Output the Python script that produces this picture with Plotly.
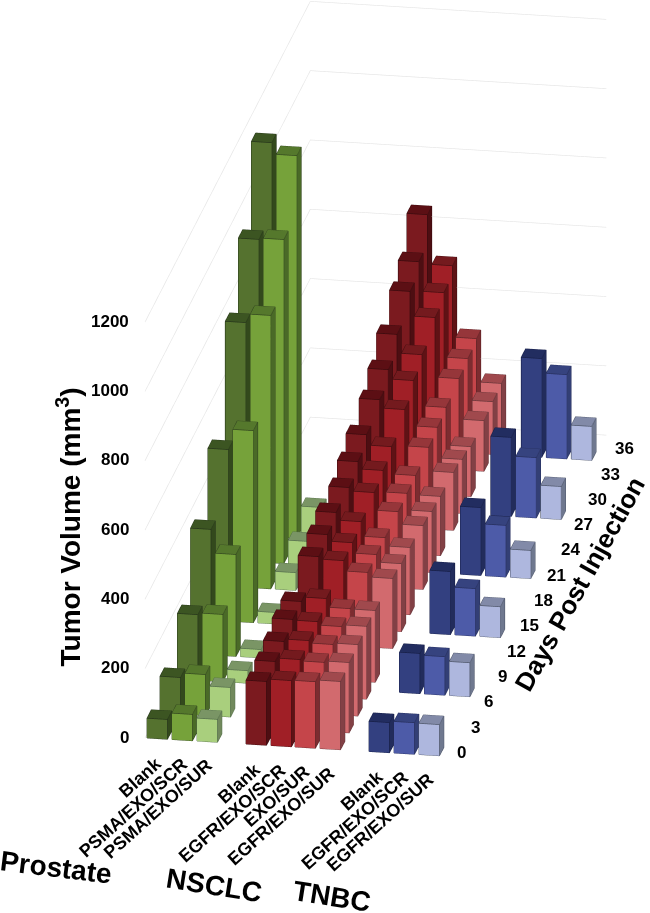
import numpy as np
import plotly.graph_objects as go

# ---------- data ----------
prostate_days = [0, 3, 7, 10, 14, 18, 21, 24]
prostate_blank = [57, 105, 189, 362, 495, 764, 931, 1137]
prostate_scr = [76, 118, 194, 294, 554, 789, 935, 1104]
prostate_sur = [66, 85, 36, 24, 33, 51, 68, 93]

nsclc_days = [0, 2, 4, 6, 8, 12, 14, 16, 19, 21, 23, 26, 28, 30, 33, 35, 37]
nsclc_blank = [184, 193, 202, 217, 220, 252, 267, 282, 281, 307, 336, 364, 402, 455, 506, 543, 630]
nsclc_scr = [191, 203, 209, 215, 233, 245, 248, 260, 271, 286, 306, 340, 375, 401, 435, 458, 487]
nsclc_exo = [192, 199, 202, 205, 208, 215, 218, 218, 220, 224, 227, 235, 244, 253, 263, 272, 281]
nsclc_sur = [197, 203, 206, 210, 207, 202, 196, 194, 184, 176, 171, 167, 156, 144, 146, 152, 156]

tnbc_days = [0, 7, 14, 21, 28, 35]
tnbc_blank = [87, 116, 182, 196, 228, 285]
tnbc_scr = [91, 111, 137, 149, 174, 243]
tnbc_sur = [90, 98, 89, 81, 95, 98]

z_ticks = [0, 200, 400, 600, 800, 1000, 1200]
day_ticks = [0, 3, 6, 9, 12, 15, 18, 21, 24, 27, 30, 33, 36]
prostate_labels = ["Blank", "PSMA/EXO/SCR", "PSMA/EXO/SUR"]
nsclc_labels = ["Blank", "EGFR/EXO/SCR", "EXO/SUR", "EGFR/EXO/SUR"]
tnbc_labels = ["Blank", "EGFR/EXO/SCR", "EGFR/EXO/SUR"]

# ---------- series layout: slot position, colours (front, top, side, edge) ----------
series = [
    (prostate_days, prostate_blank, 0, "#55722f", "#3c5522", "#33491c", "#26361a"),
    (prostate_days, prostate_scr, 25, "#76a23a", "#55782c", "#4a6a27", "#34491f"),
    (prostate_days, prostate_sur, 50, "#a9cf7d", "#7a9565", "#71895c", "#56704c"),
    (nsclc_days, nsclc_blank, 99, "#7b1a1f", "#5c0f14", "#4d0e12", "#3a0a0d"),
    (nsclc_days, nsclc_scr, 124, "#a01f26", "#741a1e", "#5f1215", "#450d10"),
    (nsclc_days, nsclc_exo, 148, "#c5454a", "#96363a", "#7c2c30", "#5f2225"),
    (nsclc_days, nsclc_sur, 173, "#d26a6e", "#a0494d", "#824045", "#683438"),
    (tnbc_days, tnbc_blank, 222, "#334080", "#222d60", "#222c5c", "#171f48"),
    (tnbc_days, tnbc_scr, 247, "#4d5ba8", "#36437f", "#333f75", "#262f5e"),
    (tnbc_days, tnbc_sur, 272, "#aeb7de", "#828aa8", "#6f788f", "#50586c"),
]
BAR_W, BAR_D = 20.5, 1.0

fig = go.Figure()

# ---------- gridlines ----------
WALL_X, END_X, DAY_END = -2, 294, 38
gx, gy, gz = [], [], []
for t in z_ticks:
    gx += [WALL_X, WALL_X, END_X, None]
    gy += [0, DAY_END, DAY_END, None]
    gz += [t, t, t, None]
fig.add_trace(go.Scatter3d(x=gx, y=gy, z=gz, mode="lines", line=dict(color="#e3e3e3", width=1.2),
                           hoverinfo="skip", showlegend=False))

# ---------- bars ----------
for days, vals, x0, c_f, c_t, c_s, c_e in series:
    X, Y, Z, I, J, K, FC = [], [], [], [], [], [], []
    ex, ey, ez = [], [], []
    for d, v in zip(days, vals):
        x1 = x0 + BAR_W
        d1 = d + BAR_D
        quads = [
            ([(x0, d, 0), (x1, d, 0), (x1, d, v), (x0, d, v)], c_f),
            ([(x0, d, v), (x1, d, v), (x1, d1, v), (x0, d1, v)], c_t),
            ([(x1, d, 0), (x1, d1, 0), (x1, d1, v), (x1, d, v)], c_s),
        ]
        for pts, col in quads:
            n = len(X)
            for p in pts:
                X.append(p[0]); Y.append(p[1]); Z.append(p[2])
            I += [n, n]; J += [n + 1, n + 2]; K += [n + 2, n + 3]
            FC += [col, col]
        loops = [
            [(x0, d, 0), (x1, d, 0), (x1, d1, 0), (x1, d1, v), (x0, d1, v), (x0, d, v), (x0, d, 0)],
            [(x0, d, v), (x1, d, v), (x1, d1, v)],
            [(x1, d, 0), (x1, d, v)],
        ]
        for loop in loops:
            for p in loop:
                ex.append(p[0]); ey.append(p[1]); ez.append(p[2])
            ex.append(None); ey.append(None); ez.append(None)
    fig.add_trace(go.Mesh3d(x=X, y=Y, z=Z, i=I, j=J, k=K, facecolor=FC, flatshading=True,
                            lighting=dict(ambient=1, diffuse=0, specular=0, roughness=1, fresnel=0),
                            hoverinfo="skip", showscale=False))
    fig.add_trace(go.Scatter3d(x=ex, y=ey, z=ez, mode="lines", line=dict(color=c_e, width=1.5),
                               hoverinfo="skip", showlegend=False))

# ---------- axis-projection model (pixels per unit of each axis) ----------
W, H = 650, 913
O_SX, O_SY = 147.0, 738.0
R1 = np.array([1.0, 4.35, 0.0])        # screen right per unit x, day, value
R2 = np.array([-0.0608, 8.44, 0.3465]) # screen up per unit x, day, value
w2 = 1.0
w1 = -(R1[1] * R2[1]) * w2 / (R1[0] * R2[0])
w3 = (w1 * R1[0] ** 2 + w2 * R1[1] ** 2 - w1 * R2[0] ** 2 - w2 * R2[1] ** 2) / R2[2] ** 2
D = 1 / np.sqrt([w1, w2, w3])
S = np.linalg.norm(R1 / D)
P1 = (R1 / D) / S
P2 = (R2 / D) / S
E = np.cross(P1, P2)

xr, yr, zr = (-130.0, 490.0), (-1.0, 40.0), (-520.0, 1300.0)
spans = np.array([xr[1] - xr[0], yr[1] - yr[0], zr[1] - zr[0]])
px_per_world = H / 2
asp = D * spans * S / px_per_world
mid = np.array([sum(xr) / 2, sum(yr) / 2, sum(zr) / 2])
mid_sx = O_SX + R1 @ mid
mid_sy = O_SY - R2 @ mid
center = -((mid_sx - W / 2) * P1 + (H / 2 - mid_sy) * P2) / px_per_world
dist = 4.0
eye = center + E * dist

FONT = "Liberation Sans"
ann = []
for t in z_ticks:
    ann.append(dict(x=-16, y=0, z=t, text=f"<b>{t}</b>", showarrow=False, xanchor="right", yanchor="middle",
                    font=dict(family=FONT, size=17, color="black")))
for t in day_ticks:
    ann.append(dict(x=315 + 0.15 * t, y=t, z=14, text=f"<b>{t}</b>", showarrow=False, xanchor="center", yanchor="middle",
                    font=dict(family=FONT, size=17, color="black")))
slots = [(prostate_labels, [0, 25, 50]), (nsclc_labels, [99, 124, 148, 173]), (tnbc_labels, [222, 247, 272])]
for labs, xs in slots:
    for lab, xp in zip(labs, xs):
        ann.append(dict(x=xp + 21.5, y=0, z=-30, text=f"<b>{lab}</b>", showarrow=False, xanchor="right", yanchor="top",
                        textangle=-42, font=dict(family=FONT, size=18, color="black")))
for name, xp, zp, ang in [("Prostate", -91, -391, 7), ("NSCLC", 67, -413, 9), ("TNBC", 185, -426, 9)]:
    ann.append(dict(x=xp, y=0, z=zp, text=f"<b>{name}</b>", showarrow=False, textangle=ang,
                    font=dict(family=FONT, size=28, color="black")))
ann.append(dict(x=-78, y=0, z=594, text="<b>Tumor Volume (mm<sup>3</sup>)</b>", showarrow=False, textangle=-90,
                font=dict(family=FONT, size=28, color="black")))
ann.append(dict(x=354.5, y=18, z=68, text="<b>Days Post Injection</b>", showarrow=False, textangle=-61,
                font=dict(family=FONT, size=26, color="black")))

axis = dict(visible=False, showgrid=False, zeroline=False, showbackground=False, showspikes=False, autorange=False)
fig.update_layout(
    width=W, height=H, margin=dict(l=0, r=0, t=0, b=0), paper_bgcolor="white", showlegend=False,
    scene=dict(
        domain=dict(x=[0, 1], y=[0, 1]),
        xaxis=dict(axis, range=list(xr)), yaxis=dict(axis, range=list(yr)), zaxis=dict(axis, range=list(zr)),
        aspectmode="manual", aspectratio=dict(x=asp[0], y=asp[1], z=asp[2]),
        camera=dict(projection=dict(type="orthographic"), up=dict(x=0, y=0, z=1),
                    center=dict(x=center[0], y=center[1], z=center[2]),
                    eye=dict(x=eye[0], y=eye[1], z=eye[2])),
        annotations=ann,
    ),
)
fig.write_html("out.html", config=dict(displayModeBar=False), post_script="document.body.style.margin='0';")
